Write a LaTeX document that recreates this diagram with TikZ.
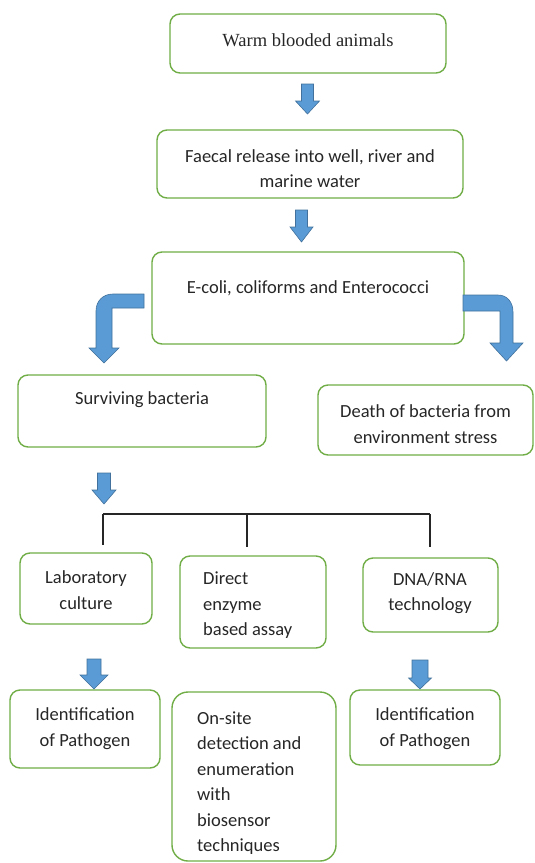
\documentclass[tikz,border=0pt]{standalone}
\usepackage{fontspec}
\setmainfont{Carlito}
\newfontfamily\timesfont{Liberation Serif}
\definecolor{boxgreen}{HTML}{70AD47}
\definecolor{arrowblue}{HTML}{5B9BD5}
\definecolor{arrowedge}{HTML}{41719C}

% block arrow pointing down: centre x, top, head top, tip, shaft half width, head half width
\newcommand{\blockarrow}[6]{%
  \filldraw[blockarrow] (#1-#5,#2) -- (#1+#5,#2) -- (#1+#5,#3) -- (#1+#6,#3)
    -- (#1,#4) -- (#1-#6,#3) -- (#1-#5,#3) -- cycle;}

\begin{document}
\begin{tikzpicture}
    [
        x=1pt, y=-1pt,
        box/.style={draw=boxgreen, line width=1.4pt, rounded corners=10pt, inner sep=0pt},
        txt/.style={inner sep=0pt, align=center, text=black!85, font=\fontsize{18.5}{25.5}\selectfont},
        blockarrow/.style={fill=arrowblue, draw=arrowedge, line width=0.6pt},
        tree/.style={draw=black!85, line width=1.4pt}
    ]
    \useasboundingbox (0,0) rectangle (535,863);

    % boxes
    \node [box, minimum width=276, minimum height=59] (warm) at (308, 43.5) {};
    \node [box, minimum width=306, minimum height=68] (faecal) at (310, 164) {};
    \node [box, minimum width=312, minimum height=92] (ecoli) at (308, 298) {};
    \node [box, minimum width=248, minimum height=72] (surviving) at (142, 411) {};
    \node [box, minimum width=215, minimum height=70] (death) at (425.5, 420) {};
    \node [box, minimum width=132, minimum height=71] (lab) at (86, 588.5) {};
    \node [box, minimum width=146, minimum height=92] (direct) at (253, 602) {};
    \node [box, minimum width=135, minimum height=74] (dna) at (430.5, 595) {};
    \node [box, minimum width=150, minimum height=78] (ident1) at (85, 729) {};
    \node [box, minimum width=164, minimum height=169, rounded corners=16pt] (onsite) at (254, 776.5) {};
    \node [box, minimum width=150, minimum height=75] (ident2) at (425, 727.5) {};

    % texts
    \node [txt, font=\timesfont\fontsize{18.5}{25.5}\selectfont] (warm-t) at (308, 40) {Warm blooded animals};
    \node [txt] (faecal-t) at (310, 168.5) {Faecal release into well, river and\\marine water};
    \node [txt] (ecoli-t) at (308, 288) {E-coli, coliforms and Enterococci};
    \node [txt] (surviving-t) at (142, 400) {Surviving bacteria};
    \node [txt] (death-t) at (425.5, 424) {Death of bacteria from\\environment stress};
    \node [txt] (lab-t) at (86, 590) {Laboratory\\culture};
    \node [txt, align=left, anchor=west] (direct-t) at (203, 605.5) {Direct\\enzyme\\based assay};
    \node [txt] (dna-t) at (430, 593) {DNA/RNA\\technology};
    \node [txt] (ident1-t) at (85, 728.5) {Identification\\of Pathogen};
    \node [txt, align=left, anchor=west] (onsite-t) at (197, 783) {On-site\\detection and\\enumeration\\with\\biosensor\\techniques};
    \node [txt] (ident2-t) at (425, 728.5) {Identification\\of Pathogen};

    % down arrows
    \blockarrow{307.5}{84}{101}{114}{6}{12}
    \blockarrow{301.5}{210}{227}{242}{6}{11.5}
    \blockarrow{104}{473}{490}{504}{6.5}{12}
    \blockarrow{94}{659}{675}{689}{7}{14}
    \blockarrow{420}{660}{678}{689}{8}{11.5}

    % bent arrows out of the E-coli box
    \filldraw[blockarrow] (144,294) -- (113,294) .. controls (103,294) and (96,301) .. (96,311)
        -- (96,348) -- (89,348) -- (104,363) -- (119,348) -- (112,348) -- (112,308) -- (144,308) -- cycle;
    \filldraw[blockarrow] (463,295) -- (498,295) .. controls (507,295) and (513,302) .. (513,312)
        -- (513,343) -- (523,343) -- (506.5,361) -- (490,343) -- (500,343) -- (500,311) -- (463,311) -- cycle;

    % branching lines
    \coordinate (tl) at (103, 514);
    \coordinate (tm) at (247, 514);
    \coordinate (tr) at (430, 514);
    \draw [tree] (tl) -- (tr);
    \draw [tree] (tl) -- ++(0, 31);
    \draw [tree] (tm) -- ++(0, 33);
    \draw [tree] (tr) -- ++(0, 33);
\end{tikzpicture}
\end{document}
